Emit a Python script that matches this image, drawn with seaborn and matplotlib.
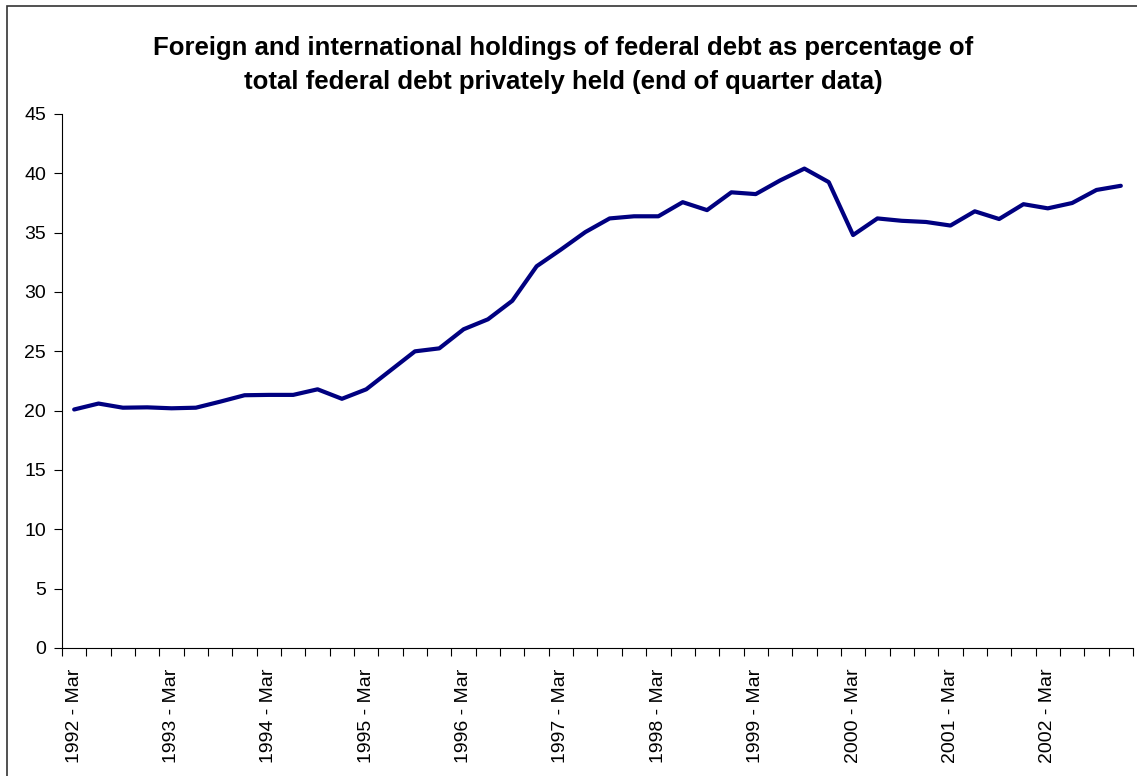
import matplotlib
matplotlib.use("Agg")
import matplotlib.pyplot as plt
import seaborn as sns
import pandas as pd
from matplotlib.patches import Rectangle

# quarters 1992 Mar .. 2002 Dec
years = list(range(1992, 2003))
months = ["Mar", "Jun", "Sep", "Dec"]
quarters = [f"{y} - {m}" for y in years for m in months]

holdings_pct = [
    20.1, 20.6, 20.25, 20.28, 20.2, 20.25, 20.76, 21.3, 21.33, 21.33, 21.8,
    21.0, 21.8, 23.4, 25.0, 25.25, 26.86, 27.7, 29.26, 32.17, 33.58, 35.05,
    36.2, 36.38, 36.38, 37.57, 36.9, 38.4, 38.25, 39.4, 40.4, 39.26, 34.8,
    36.2, 36.0, 35.9, 35.6, 36.8, 36.15, 37.4, 37.05, 37.5, 38.6, 38.95,
]

title = ("Foreign and international holdings of federal debt as percentage of\n"
         "total federal debt privately held (end of quarter data)")

df = pd.DataFrame({"idx": range(len(quarters)), "quarter": quarters, "pct": holdings_pct})

sns.set_style("ticks")
plt.rcParams["font.family"] = ["Liberation Sans", "DejaVu Sans"]
plt.rcParams["text.color"] = "black"

fig = plt.figure(figsize=(11.37, 7.76), dpi=100)
ax = fig.add_axes([62 / 1137, 1 - 648 / 776, (1133 - 62) / 1137, (648 - 114) / 776])

sns.lineplot(data=df, x="idx", y="pct", ax=ax, color="#000080", linewidth=3.0)

ax.set_xlim(-0.5, len(quarters) - 0.5)
ax.set_ylim(0, 45)
ax.set_yticks(range(0, 46, 5))
ax.tick_params(axis="y", labelsize=14, length=6, width=0.8, colors="black",
               direction="out", pad=5.5)

label_pos = [i for i, q in enumerate(quarters) if q.endswith("Mar")]
ax.set_xticks(label_pos)
ax.set_xticklabels([quarters[i] for i in label_pos], rotation=90, fontsize=14)
ax.tick_params(axis="x", which="major", length=0, pad=15, labelcolor="black")
ax.set_xticks([i - 0.5 for i in range(len(quarters) + 1)], minor=True)
ax.tick_params(axis="x", which="minor", length=6, width=0.8, direction="out", color="black")

ax.set_xlabel("")
ax.set_ylabel("")
ax.grid(False)
sns.despine(ax=ax)
for s in ["left", "bottom"]:
    ax.spines[s].set_color("black")
    ax.spines[s].set_linewidth(0.8)

fig.text(0.495, 1 - 65 / 776, title, ha="center", va="center", fontsize=18.5,
         fontweight="bold", linespacing=1.55, color="black")

fig.patches.append(Rectangle((7 / 1137, -0.01), 1.02, 1 - 6 / 776 + 0.01,
                             transform=fig.transFigure, fill=False,
                             edgecolor="#333333", linewidth=1.2))

fig.savefig("out.png", dpi=100)
